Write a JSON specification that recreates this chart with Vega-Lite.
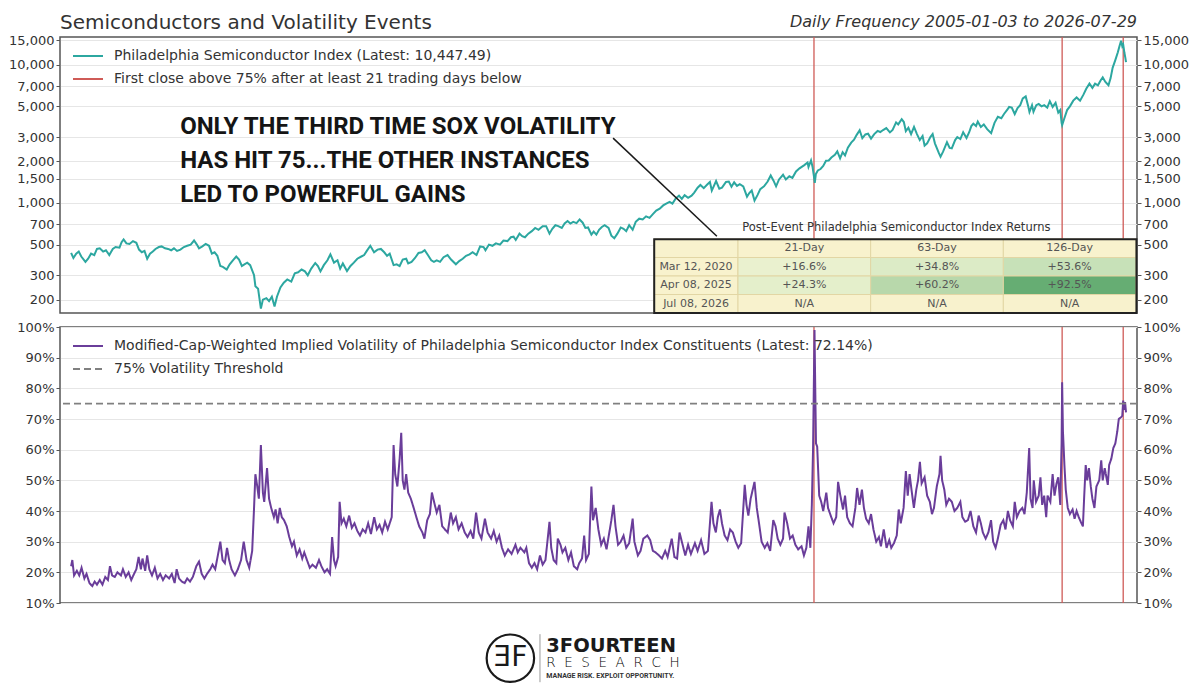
{
  "$schema": "https://vega.github.io/schema/vega-lite/v6.json",
  "background": "white",
  "padding": {"left": 7, "top": 12, "right": 8, "bottom": 4},
  "bounds": "flush",
  "spacing": 14,
  "resolve": {"scale": {"x": "independent", "y": "independent", "color": "independent", "strokeDash": "independent"}, "axis": {"x": "independent", "y": "independent"}, "legend": {"color": "independent", "strokeDash": "independent"}},
  "config": {
    "font": "DejaVu Sans",
    "view": {"stroke": "#555555", "strokeWidth": 1.5},
    "axis": {"labelFont": "DejaVu Sans", "labelFontSize": 13, "labelColor": "#333333", "tickColor": "#555555", "tickWidth": 1, "domain": false, "title": null},
    "axisY": {"gridColor": "#e6e6e6", "gridWidth": 1, "tickSize": 4, "labelPadding": 2},
    "legend": {"orient": "top-left", "offset": 3, "title": null, "symbolType": "stroke", "symbolStrokeWidth": 2, "symbolSize": 900, "symbolOffset": 9, "labelFont": "DejaVu Sans", "labelFontSize": 14, "labelColor": "#333333", "labelLimit": 0, "padding": 0, "rowPadding": -3, "labelOffset": 10}
  },
  "datasets": {
    "events": [{"d": "2020-03-12"}, {"d": "2025-04-08"}, {"d": "2026-07-08"}],
    "cells": [
      {"r": "Header", "c": "Date", "t": ""},
      {"r": "Header", "c": "21-Day", "t": "21-Day"},
      {"r": "Header", "c": "63-Day", "t": "63-Day"},
      {"r": "Header", "c": "126-Day", "t": "126-Day"},
      {"r": "Mar 12, 2020", "c": "Date", "t": "Mar 12, 2020"},
      {"r": "Mar 12, 2020", "c": "21-Day", "t": "+16.6%", "ret": 16.6},
      {"r": "Mar 12, 2020", "c": "63-Day", "t": "+34.8%", "ret": 34.8},
      {"r": "Mar 12, 2020", "c": "126-Day", "t": "+53.6%", "ret": 53.6},
      {"r": "Apr 08, 2025", "c": "Date", "t": "Apr 08, 2025"},
      {"r": "Apr 08, 2025", "c": "21-Day", "t": "+24.3%", "ret": 24.3},
      {"r": "Apr 08, 2025", "c": "63-Day", "t": "+60.2%", "ret": 60.2},
      {"r": "Apr 08, 2025", "c": "126-Day", "t": "+92.5%", "ret": 92.5},
      {"r": "Jul 08, 2026", "c": "Date", "t": "Jul 08, 2026"},
      {"r": "Jul 08, 2026", "c": "21-Day", "t": "N/A"},
      {"r": "Jul 08, 2026", "c": "63-Day", "t": "N/A"},
      {"r": "Jul 08, 2026", "c": "126-Day", "t": "N/A"}
    ],
    "sox": [
      {"d":"2005-01-03","v":435},{"d":"2005-01-20","v":400},{"d":"2005-02-10","v":430},{"d":"2005-03-01","v":445},{"d":"2005-03-20","v":410},{"d":"2005-04-20","v":375},{"d":"2005-05-10","v":395},{"d":"2005-06-01","v":430},{"d":"2005-06-25","v":420},{"d":"2005-07-15","v":465},{"d":"2005-08-05","v":470},{"d":"2005-08-30","v":445},{"d":"2005-09-20","v":455},{"d":"2005-10-15","v":420},{"d":"2005-11-10","v":465},{"d":"2005-12-01","v":480},{"d":"2005-12-30","v":475},
      {"d":"2006-01-15","v":520},{"d":"2006-01-30","v":545},{"d":"2006-02-20","v":510},{"d":"2006-03-15","v":505},{"d":"2006-04-10","v":530},{"d":"2006-05-05","v":515},{"d":"2006-05-25","v":460},{"d":"2006-06-15","v":440},{"d":"2006-07-05","v":450},{"d":"2006-07-25","v":395},{"d":"2006-08-15","v":430},{"d":"2006-09-05","v":445},{"d":"2006-09-25","v":465},{"d":"2006-10-20","v":480},{"d":"2006-11-10","v":485},{"d":"2006-12-05","v":470},{"d":"2006-12-28","v":465},
      {"d":"2007-01-20","v":455},{"d":"2007-02-10","v":470},{"d":"2007-03-05","v":450},{"d":"2007-03-30","v":460},{"d":"2007-04-25","v":480},{"d":"2007-05-20","v":490},{"d":"2007-06-15","v":500},{"d":"2007-07-10","v":535},{"d":"2007-07-31","v":500},{"d":"2007-08-16","v":470},{"d":"2007-09-10","v":485},{"d":"2007-10-05","v":505},{"d":"2007-10-30","v":490},{"d":"2007-11-20","v":430},{"d":"2007-12-10","v":440},{"d":"2007-12-31","v":415},
      {"d":"2008-01-22","v":350},{"d":"2008-02-10","v":345},{"d":"2008-03-10","v":330},{"d":"2008-04-01","v":360},{"d":"2008-04-25","v":385},{"d":"2008-05-20","v":410},{"d":"2008-06-10","v":390},{"d":"2008-07-01","v":350},{"d":"2008-07-20","v":360},{"d":"2008-08-10","v":370},{"d":"2008-09-01","v":355},{"d":"2008-09-30","v":300},{"d":"2008-10-10","v":250},{"d":"2008-10-30","v":240},{"d":"2008-11-20","v":172},{"d":"2008-12-05","v":200},{"d":"2008-12-31","v":205},
      {"d":"2009-01-20","v":195},{"d":"2009-02-10","v":210},{"d":"2009-03-02","v":178},{"d":"2009-03-20","v":210},{"d":"2009-04-15","v":245},{"d":"2009-05-10","v":265},{"d":"2009-06-05","v":280},{"d":"2009-07-05","v":270},{"d":"2009-07-31","v":310},{"d":"2009-08-25","v":315},{"d":"2009-09-20","v":330},{"d":"2009-10-15","v":320},{"d":"2009-11-05","v":300},{"d":"2009-12-01","v":335},{"d":"2009-12-31","v":368},
      {"d":"2010-01-20","v":350},{"d":"2010-02-08","v":320},{"d":"2010-03-05","v":355},{"d":"2010-04-01","v":385},{"d":"2010-04-23","v":425},{"d":"2010-05-20","v":370},{"d":"2010-06-15","v":385},{"d":"2010-07-05","v":335},{"d":"2010-07-25","v":365},{"d":"2010-08-25","v":322},{"d":"2010-09-20","v":350},{"d":"2010-10-15","v":370},{"d":"2010-11-10","v":395},{"d":"2010-12-10","v":410},{"d":"2010-12-31","v":420},
      {"d":"2011-01-20","v":450},{"d":"2011-02-15","v":490},{"d":"2011-03-15","v":440},{"d":"2011-04-10","v":460},{"d":"2011-05-05","v":465},{"d":"2011-05-30","v":440},{"d":"2011-06-20","v":415},{"d":"2011-07-10","v":430},{"d":"2011-08-08","v":355},{"d":"2011-08-31","v":360},{"d":"2011-09-22","v":350},{"d":"2011-10-15","v":390},{"d":"2011-11-10","v":395},{"d":"2011-11-25","v":365},{"d":"2011-12-20","v":375},
      {"d":"2012-01-15","v":400},{"d":"2012-02-10","v":435},{"d":"2012-03-05","v":440},{"d":"2012-03-27","v":455},{"d":"2012-04-20","v":420},{"d":"2012-05-15","v":385},{"d":"2012-06-04","v":375},{"d":"2012-06-25","v":385},{"d":"2012-07-20","v":375},{"d":"2012-08-15","v":405},{"d":"2012-09-14","v":420},{"d":"2012-10-10","v":390},{"d":"2012-11-15","v":360},{"d":"2012-12-10","v":380},
      {"d":"2013-01-05","v":395},{"d":"2013-01-30","v":415},{"d":"2013-02-25","v":425},{"d":"2013-03-20","v":440},{"d":"2013-04-18","v":420},{"d":"2013-05-15","v":485},{"d":"2013-06-10","v":480},{"d":"2013-06-24","v":455},{"d":"2013-07-20","v":500},{"d":"2013-08-15","v":490},{"d":"2013-09-10","v":510},{"d":"2013-10-10","v":500},{"d":"2013-11-05","v":535},{"d":"2013-12-05","v":530},{"d":"2013-12-31","v":565},
      {"d":"2014-01-20","v":570},{"d":"2014-02-05","v":540},{"d":"2014-03-05","v":600},{"d":"2014-03-25","v":575},{"d":"2014-04-15","v":565},{"d":"2014-05-10","v":600},{"d":"2014-06-05","v":625},{"d":"2014-06-30","v":660},{"d":"2014-07-25","v":640},{"d":"2014-08-25","v":680},{"d":"2014-09-20","v":680},{"d":"2014-10-15","v":600},{"d":"2014-11-05","v":650},{"d":"2014-11-28","v":690},{"d":"2014-12-20","v":680},
      {"d":"2015-01-15","v":660},{"d":"2015-02-05","v":710},{"d":"2015-02-27","v":740},{"d":"2015-03-20","v":710},{"d":"2015-04-10","v":730},{"d":"2015-05-05","v":715},{"d":"2015-05-28","v":760},{"d":"2015-06-20","v":720},{"d":"2015-07-10","v":660},{"d":"2015-07-30","v":665},{"d":"2015-08-24","v":590},{"d":"2015-09-10","v":620},{"d":"2015-09-30","v":590},{"d":"2015-10-20","v":640},{"d":"2015-11-10","v":670},{"d":"2015-12-01","v":690},{"d":"2015-12-30","v":660},
      {"d":"2016-01-20","v":580},{"d":"2016-02-11","v":555},{"d":"2016-03-05","v":600},{"d":"2016-03-30","v":665},{"d":"2016-04-20","v":650},{"d":"2016-05-10","v":625},{"d":"2016-06-01","v":690},{"d":"2016-06-27","v":640},{"d":"2016-07-20","v":730},{"d":"2016-08-15","v":770},{"d":"2016-09-10","v":760},{"d":"2016-10-05","v":800},{"d":"2016-10-31","v":780},{"d":"2016-11-25","v":830},{"d":"2016-12-20","v":880},
      {"d":"2017-01-15","v":910},{"d":"2017-02-10","v":960},{"d":"2017-03-05","v":990},{"d":"2017-03-30","v":1020},{"d":"2017-04-20","v":990},{"d":"2017-05-15","v":1080},{"d":"2017-06-08","v":1130},{"d":"2017-06-29","v":1070},{"d":"2017-07-20","v":1140},{"d":"2017-08-15","v":1090},{"d":"2017-09-10","v":1130},{"d":"2017-09-30","v":1190},{"d":"2017-10-25","v":1290},{"d":"2017-11-15","v":1350},{"d":"2017-12-10","v":1280},
      {"d":"2018-01-05","v":1360},{"d":"2018-01-25","v":1420},{"d":"2018-02-08","v":1230},{"d":"2018-03-12","v":1440},{"d":"2018-04-05","v":1270},{"d":"2018-04-25","v":1290},{"d":"2018-05-25","v":1420},{"d":"2018-06-15","v":1430},{"d":"2018-07-05","v":1310},{"d":"2018-07-25","v":1410},{"d":"2018-08-15","v":1330},{"d":"2018-09-05","v":1370},{"d":"2018-10-01","v":1320},{"d":"2018-10-29","v":1110},{"d":"2018-11-15","v":1180},{"d":"2018-12-03","v":1230},{"d":"2018-12-24","v":1040},
      {"d":"2019-01-15","v":1140},{"d":"2019-02-05","v":1260},{"d":"2019-03-05","v":1320},{"d":"2019-04-01","v":1430},{"d":"2019-04-24","v":1580},{"d":"2019-05-15","v":1450},{"d":"2019-06-03","v":1320},{"d":"2019-06-25","v":1480},{"d":"2019-07-25","v":1600},{"d":"2019-08-15","v":1480},{"d":"2019-09-10","v":1560},{"d":"2019-10-03","v":1520},{"d":"2019-10-30","v":1690},{"d":"2019-11-25","v":1780},{"d":"2019-12-31","v":1880},
      {"d":"2020-01-24","v":1960},{"d":"2020-01-31","v":1820},{"d":"2020-02-19","v":2030},{"d":"2020-03-01","v":1830},{"d":"2020-03-12","v":1550},{"d":"2020-03-18","v":1400},{"d":"2020-03-26","v":1620},{"d":"2020-04-10","v":1720},{"d":"2020-04-30","v":1760},{"d":"2020-05-20","v":1850},{"d":"2020-06-10","v":2020},{"d":"2020-06-30","v":2030},{"d":"2020-07-20","v":2130},{"d":"2020-08-15","v":2230},{"d":"2020-09-02","v":2360},{"d":"2020-09-23","v":2100},{"d":"2020-10-12","v":2330},{"d":"2020-10-30","v":2210},{"d":"2020-11-20","v":2510},{"d":"2020-12-15","v":2730},
      {"d":"2021-01-05","v":2870},{"d":"2021-01-25","v":3110},{"d":"2021-02-16","v":3360},{"d":"2021-03-08","v":2940},{"d":"2021-03-31","v":3130},{"d":"2021-04-20","v":3170},{"d":"2021-05-12","v":2920},{"d":"2021-06-05","v":3150},{"d":"2021-06-30","v":3320},{"d":"2021-07-20","v":3260},{"d":"2021-08-10","v":3370},{"d":"2021-09-03","v":3480},{"d":"2021-09-30","v":3240},{"d":"2021-10-20","v":3380},{"d":"2021-11-15","v":3830},{"d":"2021-12-01","v":3700},{"d":"2021-12-27","v":4040},
      {"d":"2022-01-12","v":3850},{"d":"2022-01-27","v":3310},{"d":"2022-02-15","v":3500},{"d":"2022-03-07","v":3150},{"d":"2022-03-29","v":3550},{"d":"2022-04-20","v":3150},{"d":"2022-05-11","v":2850},{"d":"2022-06-01","v":3050},{"d":"2022-06-16","v":2600},{"d":"2022-07-05","v":2700},{"d":"2022-07-29","v":3000},{"d":"2022-08-15","v":3150},{"d":"2022-09-01","v":2700},{"d":"2022-09-30","v":2300},{"d":"2022-10-13","v":2160},{"d":"2022-11-01","v":2350},{"d":"2022-11-30","v":2750},{"d":"2022-12-20","v":2500},
      {"d":"2023-01-05","v":2480},{"d":"2023-01-30","v":2850},{"d":"2023-02-15","v":3000},{"d":"2023-03-10","v":2900},{"d":"2023-03-31","v":3250},{"d":"2023-04-25","v":2950},{"d":"2023-05-15","v":3250},{"d":"2023-05-31","v":3600},{"d":"2023-06-15","v":3750},{"d":"2023-07-05","v":3600},{"d":"2023-07-18","v":3880},{"d":"2023-08-10","v":3550},{"d":"2023-09-01","v":3700},{"d":"2023-09-26","v":3420},{"d":"2023-10-26","v":3200},{"d":"2023-11-20","v":3800},{"d":"2023-12-15","v":4200},
      {"d":"2024-01-10","v":4100},{"d":"2024-01-30","v":4400},{"d":"2024-02-25","v":4750},{"d":"2024-03-08","v":4950},{"d":"2024-03-28","v":4900},{"d":"2024-04-19","v":4400},{"d":"2024-05-10","v":4850},{"d":"2024-05-30","v":5100},{"d":"2024-06-18","v":5700},{"d":"2024-07-10","v":5900},{"d":"2024-07-30","v":4950},{"d":"2024-08-07","v":4550},{"d":"2024-08-26","v":5100},{"d":"2024-09-06","v":4570},{"d":"2024-09-27","v":5100},{"d":"2024-10-15","v":5200},{"d":"2024-11-05","v":5000},{"d":"2024-11-25","v":5100},{"d":"2024-12-18","v":4900},
      {"d":"2025-01-06","v":5450},{"d":"2025-01-27","v":4950},{"d":"2025-02-18","v":5300},{"d":"2025-03-10","v":4500},{"d":"2025-03-25","v":4700},{"d":"2025-04-04","v":3800},{"d":"2025-04-08","v":3650},{"d":"2025-04-21","v":4000},{"d":"2025-05-15","v":4700},{"d":"2025-06-05","v":5000},{"d":"2025-06-30","v":5500},{"d":"2025-07-25","v":5800},{"d":"2025-08-20","v":5500},{"d":"2025-09-15","v":6100},{"d":"2025-10-05","v":6700},{"d":"2025-10-29","v":7300},{"d":"2025-11-20","v":6800},{"d":"2025-12-10","v":7300},{"d":"2025-12-31","v":7100},
      {"d":"2026-01-20","v":7700},{"d":"2026-02-05","v":8100},{"d":"2026-02-25","v":7500},{"d":"2026-03-20","v":7100},{"d":"2026-04-05","v":8000},{"d":"2026-04-20","v":9500},{"d":"2026-05-10","v":10800},{"d":"2026-05-29","v":12300},{"d":"2026-06-10","v":13600},{"d":"2026-06-22","v":14900},{"d":"2026-07-01","v":13600},{"d":"2026-07-08","v":14000},{"d":"2026-07-17","v":12200},{"d":"2026-07-24","v":11200},{"d":"2026-07-29","v":10447.49}
    ],
    "vol": [
      {"d":"2005-01-03","v":22},{"d":"2005-01-12","v":24},{"d":"2005-01-25","v":19},{"d":"2005-02-15","v":20.5},{"d":"2005-03-05","v":19},{"d":"2005-03-22","v":21.5},{"d":"2005-04-12","v":18},{"d":"2005-04-28","v":19.5},{"d":"2005-05-20","v":16.5},{"d":"2005-06-10","v":15.5},{"d":"2005-06-28","v":17},{"d":"2005-07-15","v":16},{"d":"2005-08-05","v":17.5},{"d":"2005-08-25","v":16},{"d":"2005-09-15","v":18.5},{"d":"2005-10-05","v":17.5},{"d":"2005-10-20","v":22},{"d":"2005-11-05","v":19},{"d":"2005-11-25","v":18.5},{"d":"2005-12-15","v":20},
      {"d":"2006-01-10","v":19},{"d":"2006-01-25","v":21},{"d":"2006-02-15","v":18.5},{"d":"2006-03-08","v":20},{"d":"2006-03-28","v":17.5},{"d":"2006-04-18","v":19.5},{"d":"2006-05-05","v":21},{"d":"2006-05-22","v":25},{"d":"2006-06-08","v":21},{"d":"2006-06-20","v":24.5},{"d":"2006-07-10","v":20.5},{"d":"2006-07-25","v":25.5},{"d":"2006-08-10","v":21},{"d":"2006-08-30","v":19},{"d":"2006-09-20","v":21.5},{"d":"2006-10-10","v":18},{"d":"2006-10-30","v":19.5},{"d":"2006-11-20","v":17.5},{"d":"2006-12-10","v":19},
      {"d":"2007-01-05","v":18},{"d":"2007-01-25","v":19.5},{"d":"2007-02-15","v":16.5},{"d":"2007-03-02","v":21},{"d":"2007-03-20","v":18},{"d":"2007-04-10","v":17},{"d":"2007-05-01","v":16.5},{"d":"2007-05-20","v":18},{"d":"2007-06-10","v":17},{"d":"2007-07-01","v":18.5},{"d":"2007-07-27","v":22},{"d":"2007-08-16","v":23.5},{"d":"2007-09-05","v":19.5},{"d":"2007-09-25","v":18},{"d":"2007-10-15","v":19.5},{"d":"2007-11-08","v":21},{"d":"2007-11-25","v":22.5},{"d":"2007-12-15","v":21},
      {"d":"2008-01-10","v":27},{"d":"2008-01-22","v":30},{"d":"2008-02-08","v":24},{"d":"2008-02-25","v":23},{"d":"2008-03-12","v":28},{"d":"2008-03-28","v":24},{"d":"2008-04-15","v":21},{"d":"2008-05-10","v":19},{"d":"2008-06-01","v":21},{"d":"2008-06-25","v":24},{"d":"2008-07-15","v":30},{"d":"2008-08-05","v":24},{"d":"2008-08-25","v":21.5},{"d":"2008-09-16","v":27},{"d":"2008-09-30","v":41},{"d":"2008-10-10","v":52},{"d":"2008-10-24","v":48},{"d":"2008-11-05","v":44},{"d":"2008-11-20","v":61.5},{"d":"2008-12-05","v":46},{"d":"2008-12-15","v":43},
      {"d":"2009-01-05","v":54},{"d":"2009-01-20","v":44},{"d":"2009-02-05","v":41},{"d":"2009-02-25","v":38},{"d":"2009-03-10","v":40.5},{"d":"2009-03-25","v":36},{"d":"2009-04-10","v":41},{"d":"2009-04-25","v":38},{"d":"2009-05-12","v":37},{"d":"2009-06-01","v":35},{"d":"2009-06-20","v":31.5},{"d":"2009-07-10","v":28.5},{"d":"2009-07-25","v":30},{"d":"2009-08-15","v":25.5},{"d":"2009-09-05","v":27.5},{"d":"2009-09-25","v":24.5},{"d":"2009-10-10","v":26.5},{"d":"2009-10-30","v":24},{"d":"2009-11-20","v":21.5},{"d":"2009-12-10","v":22.5},
      {"d":"2010-01-05","v":21.5},{"d":"2010-01-28","v":24},{"d":"2010-02-15","v":22},{"d":"2010-03-10","v":20},{"d":"2010-03-30","v":21},{"d":"2010-04-20","v":19.5},{"d":"2010-05-06","v":31.5},{"d":"2010-05-20","v":24},{"d":"2010-06-01","v":22},{"d":"2010-06-20","v":25},{"d":"2010-07-01","v":43},{"d":"2010-07-15","v":36},{"d":"2010-08-01","v":37.5},{"d":"2010-08-20","v":35},{"d":"2010-09-10","v":38.5},{"d":"2010-09-30","v":34.5},{"d":"2010-10-20","v":36},{"d":"2010-11-10","v":33.5},{"d":"2010-11-30","v":32},{"d":"2010-12-20","v":34},
      {"d":"2011-01-10","v":33},{"d":"2011-01-30","v":36},{"d":"2011-02-20","v":32.5},{"d":"2011-03-16","v":38},{"d":"2011-04-05","v":34},{"d":"2011-04-25","v":35.5},{"d":"2011-05-15","v":33},{"d":"2011-06-05","v":36.5},{"d":"2011-06-25","v":34},{"d":"2011-07-10","v":36},{"d":"2011-07-25","v":38},{"d":"2011-08-08","v":61.5},{"d":"2011-08-20","v":52},{"d":"2011-09-05","v":48},{"d":"2011-09-22","v":57},{"d":"2011-10-04","v":65.5},{"d":"2011-10-15","v":50},{"d":"2011-10-28","v":47},{"d":"2011-11-10","v":52},{"d":"2011-11-25","v":46},{"d":"2011-12-15","v":44},
      {"d":"2012-01-05","v":41},{"d":"2012-01-25","v":38},{"d":"2012-02-15","v":35},{"d":"2012-03-10","v":33},{"d":"2012-03-25","v":31},{"d":"2012-04-15","v":37},{"d":"2012-05-05","v":39},{"d":"2012-05-20","v":46},{"d":"2012-06-05","v":43},{"d":"2012-06-25","v":39.5},{"d":"2012-07-15","v":42},{"d":"2012-08-05","v":35},{"d":"2012-08-25","v":34},{"d":"2012-09-15","v":33},{"d":"2012-10-08","v":39.5},{"d":"2012-10-25","v":36},{"d":"2012-11-15","v":38},{"d":"2012-12-05","v":34},{"d":"2012-12-28","v":36},
      {"d":"2013-01-20","v":33},{"d":"2013-02-10","v":31.5},{"d":"2013-03-05","v":33.5},{"d":"2013-03-25","v":31},{"d":"2013-04-15","v":39.5},{"d":"2013-05-05","v":33},{"d":"2013-05-25","v":31},{"d":"2013-06-20","v":37.5},{"d":"2013-07-10","v":33},{"d":"2013-08-05","v":31},{"d":"2013-08-25","v":33.5},{"d":"2013-09-15","v":30},{"d":"2013-10-05","v":32},{"d":"2013-10-25","v":28},{"d":"2013-11-15","v":25.5},{"d":"2013-12-10","v":27.5},
      {"d":"2014-01-05","v":26},{"d":"2014-02-03","v":29},{"d":"2014-02-20","v":26.5},{"d":"2014-03-12","v":28},{"d":"2014-04-10","v":26.5},{"d":"2014-04-25","v":28},{"d":"2014-05-15","v":23},{"d":"2014-06-05","v":21.5},{"d":"2014-06-25","v":23},{"d":"2014-07-15","v":21},{"d":"2014-08-05","v":25.5},{"d":"2014-08-25","v":22.5},{"d":"2014-09-15","v":24},{"d":"2014-10-15","v":36.5},{"d":"2014-10-28","v":28},{"d":"2014-11-15","v":24},{"d":"2014-12-05","v":23},{"d":"2014-12-16","v":31},
      {"d":"2015-01-05","v":29},{"d":"2015-01-20","v":26.5},{"d":"2015-02-10","v":28},{"d":"2015-03-05","v":24},{"d":"2015-03-25","v":26.5},{"d":"2015-04-15","v":22},{"d":"2015-05-10","v":21},{"d":"2015-05-25","v":23},{"d":"2015-06-15","v":24.5},{"d":"2015-07-01","v":32},{"d":"2015-07-15","v":24},{"d":"2015-08-05","v":26},{"d":"2015-08-24","v":48},{"d":"2015-09-05","v":37},{"d":"2015-09-25","v":41},{"d":"2015-10-15","v":34},{"d":"2015-11-05","v":29},{"d":"2015-11-25","v":31},{"d":"2015-12-15","v":27.5},
      {"d":"2016-01-20","v":37},{"d":"2016-02-05","v":42},{"d":"2016-02-20","v":35},{"d":"2016-03-10","v":29},{"d":"2016-03-30","v":30},{"d":"2016-04-20","v":32},{"d":"2016-05-10","v":28},{"d":"2016-06-01","v":29.5},{"d":"2016-06-27","v":37.5},{"d":"2016-07-10","v":30},{"d":"2016-08-05","v":25.5},{"d":"2016-08-25","v":27},{"d":"2016-09-15","v":31},{"d":"2016-10-15","v":32},{"d":"2016-11-05","v":30.5},{"d":"2016-11-25","v":27},{"d":"2016-12-15","v":26.5},
      {"d":"2017-01-10","v":25.5},{"d":"2017-02-01","v":24.5},{"d":"2017-02-25","v":27},{"d":"2017-03-15","v":25},{"d":"2017-04-15","v":31},{"d":"2017-05-05","v":25},{"d":"2017-05-25","v":24.5},{"d":"2017-06-12","v":33},{"d":"2017-07-05","v":29},{"d":"2017-07-25","v":25.5},{"d":"2017-08-15","v":29},{"d":"2017-09-05","v":26},{"d":"2017-10-05","v":29.5},{"d":"2017-10-25","v":27},{"d":"2017-11-20","v":30.5},{"d":"2017-12-15","v":26},
      {"d":"2018-01-10","v":27},{"d":"2018-02-06","v":43},{"d":"2018-02-20","v":36},{"d":"2018-03-10","v":33},{"d":"2018-03-25","v":38},{"d":"2018-04-10","v":40.5},{"d":"2018-04-25","v":36},{"d":"2018-05-15","v":32},{"d":"2018-06-05","v":30.5},{"d":"2018-06-25","v":34},{"d":"2018-07-15","v":33},{"d":"2018-08-05","v":30},{"d":"2018-08-25","v":28},{"d":"2018-09-15","v":29.5},{"d":"2018-10-12","v":48.5},{"d":"2018-10-25","v":42},{"d":"2018-11-08","v":38.5},{"d":"2018-11-25","v":44},{"d":"2018-12-24","v":49.5},
      {"d":"2019-01-10","v":41},{"d":"2019-01-25","v":36.5},{"d":"2019-02-15","v":30},{"d":"2019-03-10","v":28},{"d":"2019-03-30","v":29.5},{"d":"2019-04-20","v":27},{"d":"2019-05-13","v":37},{"d":"2019-05-30","v":35},{"d":"2019-06-15","v":31},{"d":"2019-07-05","v":29},{"d":"2019-07-25","v":31},{"d":"2019-08-05","v":39.5},{"d":"2019-08-25","v":36},{"d":"2019-09-15","v":31},{"d":"2019-10-05","v":32},{"d":"2019-10-25","v":29},{"d":"2019-11-15","v":27.5},{"d":"2019-12-10","v":28.5},{"d":"2019-12-28","v":25.5},
      {"d":"2020-01-15","v":28},{"d":"2020-01-31","v":35},{"d":"2020-02-14","v":28},{"d":"2020-02-25","v":42},{"d":"2020-03-05","v":60},{"d":"2020-03-16","v":99},{"d":"2020-03-20","v":85},{"d":"2020-03-27","v":62},{"d":"2020-04-05","v":61},{"d":"2020-04-20","v":45},{"d":"2020-05-05","v":43},{"d":"2020-05-20","v":40},{"d":"2020-06-12","v":46},{"d":"2020-06-25","v":41},{"d":"2020-07-15","v":38.5},{"d":"2020-08-05","v":36},{"d":"2020-08-25","v":38},{"d":"2020-09-08","v":49.5},{"d":"2020-09-25","v":45},{"d":"2020-10-15","v":40.5},{"d":"2020-10-30","v":45},{"d":"2020-11-15","v":38},{"d":"2020-12-05","v":36},{"d":"2020-12-25","v":35},
      {"d":"2021-01-15","v":41},{"d":"2021-01-28","v":47.5},{"d":"2021-02-15","v":42},{"d":"2021-03-05","v":47},{"d":"2021-03-20","v":41},{"d":"2021-04-05","v":37.5},{"d":"2021-04-25","v":36},{"d":"2021-05-12","v":39},{"d":"2021-05-30","v":34},{"d":"2021-06-20","v":30},{"d":"2021-07-10","v":31.5},{"d":"2021-07-25","v":28.5},{"d":"2021-08-15","v":34},{"d":"2021-09-05","v":28},{"d":"2021-09-25","v":30.5},{"d":"2021-10-10","v":28},{"d":"2021-10-30","v":29.5},{"d":"2021-11-20","v":32},{"d":"2021-12-05","v":40.5},{"d":"2021-12-20","v":36},
      {"d":"2022-01-10","v":41},{"d":"2022-01-27","v":53},{"d":"2022-02-10","v":45},{"d":"2022-02-24","v":52},{"d":"2022-03-10","v":47},{"d":"2022-03-28","v":41},{"d":"2022-04-15","v":47},{"d":"2022-04-28","v":50},{"d":"2022-05-12","v":56},{"d":"2022-05-25","v":49},{"d":"2022-06-16","v":51},{"d":"2022-07-05","v":45},{"d":"2022-07-25","v":43},{"d":"2022-08-10","v":39},{"d":"2022-08-25","v":41},{"d":"2022-09-15","v":48},{"d":"2022-10-05","v":52},{"d":"2022-10-13","v":58},{"d":"2022-10-25","v":50},{"d":"2022-11-10","v":47},{"d":"2022-11-25","v":42},{"d":"2022-12-15","v":44},
      {"d":"2023-01-05","v":43},{"d":"2023-01-25","v":40},{"d":"2023-02-15","v":41},{"d":"2023-03-10","v":43},{"d":"2023-03-25","v":38},{"d":"2023-04-15","v":36.5},{"d":"2023-05-05","v":37},{"d":"2023-05-25","v":40},{"d":"2023-06-15","v":35},{"d":"2023-07-05","v":33},{"d":"2023-07-25","v":38.5},{"d":"2023-08-10","v":36},{"d":"2023-08-25","v":33},{"d":"2023-09-15","v":31},{"d":"2023-10-05","v":33},{"d":"2023-10-25","v":37},{"d":"2023-11-10","v":30},{"d":"2023-11-28","v":28},{"d":"2023-12-15","v":31},
      {"d":"2024-01-05","v":35.5},{"d":"2024-01-25","v":37},{"d":"2024-02-10","v":34},{"d":"2024-02-28","v":40},{"d":"2024-03-15","v":37},{"d":"2024-04-05","v":35},{"d":"2024-04-19","v":43},{"d":"2024-05-05","v":38},{"d":"2024-05-25","v":40},{"d":"2024-06-15","v":41},{"d":"2024-07-01","v":39},{"d":"2024-07-18","v":46},{"d":"2024-08-05","v":60.5},{"d":"2024-08-15","v":44},{"d":"2024-08-30","v":41},{"d":"2024-09-08","v":50},{"d":"2024-09-25","v":43},{"d":"2024-10-15","v":45},{"d":"2024-10-28","v":51},{"d":"2024-11-10","v":42},{"d":"2024-11-25","v":45},{"d":"2024-12-10","v":38},{"d":"2024-12-20","v":45},
      {"d":"2025-01-10","v":43},{"d":"2025-01-27","v":52},{"d":"2025-02-10","v":45},{"d":"2025-02-25","v":49},{"d":"2025-03-10","v":51},{"d":"2025-03-25","v":42},{"d":"2025-04-04","v":62},{"d":"2025-04-08","v":82},{"d":"2025-04-14","v":66},{"d":"2025-04-25","v":55},{"d":"2025-05-05","v":47},{"d":"2025-05-20","v":41},{"d":"2025-06-05","v":39},{"d":"2025-06-25","v":40.5},{"d":"2025-07-10","v":37.5},{"d":"2025-07-25","v":40},{"d":"2025-08-10","v":38},{"d":"2025-08-25","v":36.5},{"d":"2025-09-10","v":35},{"d":"2025-09-20","v":45},{"d":"2025-10-01","v":55},{"d":"2025-10-12","v":50},{"d":"2025-10-25","v":54},{"d":"2025-11-08","v":48},{"d":"2025-11-20","v":44},{"d":"2025-12-05","v":41},{"d":"2025-12-20","v":48},
      {"d":"2026-01-10","v":50},{"d":"2026-01-25","v":56.5},{"d":"2026-02-05","v":50},{"d":"2026-02-20","v":54},{"d":"2026-03-15","v":48.5},{"d":"2026-03-25","v":55},{"d":"2026-04-10","v":57},{"d":"2026-04-25","v":60.5},{"d":"2026-05-10","v":62},{"d":"2026-05-25","v":66},{"d":"2026-06-05","v":70},{"d":"2026-06-20","v":70.5},{"d":"2026-07-01","v":71},{"d":"2026-07-08","v":76},{"d":"2026-07-15","v":73},{"d":"2026-07-22","v":75.5},{"d":"2026-07-29","v":72.14}
    ]
  },
  "vconcat": [
    {
      "width": 1077,
      "height": 276,
      "layer": [
        {
          "layer": [
            {
              "data": {"name": "events"},
              "mark": {"type": "rule", "strokeWidth": 1.3},
              "encoding": {
                "x": {"field": "d", "type": "temporal", "scale": {"domain": [{"year": 2004, "month": 10, "date": 12}, {"year": 2026, "month": 10, "date": 19}], "nice": false}, "axis": null},
                "color": {"datum": "First close above 75% after at least 21 trading days below", "type": "nominal", "scale": {"domain": ["Philadelphia Semiconductor Index (Latest: 10,447.49)", "First close above 75% after at least 21 trading days below"], "range": ["#2ca7a0", "#cf5b57"]}}
              }
            },
            {
              "data": {"name": "sox"},
              "mark": {"type": "line", "strokeWidth": 2},
              "encoding": {
                "x": {"field": "d", "type": "temporal", "scale": {"domain": [{"year": 2004, "month": 10, "date": 12}, {"year": 2026, "month": 10, "date": 19}], "nice": false}, "axis": null},
                "y": {"field": "v", "type": "quantitative", "scale": {"type": "log", "domain": [160, 15870], "nice": false}, "axis": {"orient": "left", "title": null, "grid": true, "values": [200, 300, 500, 700, 1000, 1500, 2000, 3000, 5000, 7000, 10000, 15000], "format": ",d"}},
                "color": {"datum": "Philadelphia Semiconductor Index (Latest: 10,447.49)", "type": "nominal", "scale": {"domain": ["Philadelphia Semiconductor Index (Latest: 10,447.49)", "First close above 75% after at least 21 trading days below"], "range": ["#2ca7a0", "#cf5b57"]}}
              }
            },
            {
              "data": {"values": [{}]},
              "mark": {"type": "text", "font": "Roboto", "fontWeight": "bold", "fontSize": 24, "align": "left", "baseline": "middle", "lineHeight": 34, "color": "#151515"},
              "encoding": {
                "x": {"datum": {"year": 2007, "month": 3, "date": 28}, "type": "temporal", "scale": {"domain": [{"year": 2004, "month": 10, "date": 12}, {"year": 2026, "month": 10, "date": 19}], "nice": false}, "axis": null},
                "y": {"datum": 3540, "type": "quantitative", "scale": {"type": "log", "domain": [160, 15870], "nice": false}, "axis": {"orient": "right", "title": null, "grid": false, "values": [200, 300, 500, 700, 1000, 1500, 2000, 3000, 5000, 7000, 10000, 15000], "format": ",d"}},
                "text": {"value": ["ONLY THE THIRD TIME SOX VOLATILITY", "HAS HIT 75...THE OTHER INSTANCES", "LED TO POWERFUL GAINS"]}
              }
            },
            {
              "data": {"values": [{}]},
              "mark": {"type": "rule", "color": "#1a1a1a", "strokeWidth": 1.5},
              "encoding": {
                "x": {"datum": {"year": 2016, "month": 2, "date": 2}, "type": "temporal", "scale": {"domain": [{"year": 2004, "month": 10, "date": 12}, {"year": 2026, "month": 10, "date": 19}], "nice": false}, "axis": null},
                "x2": {"datum": {"year": 2018, "month": 3, "date": 18}},
                "y": {"datum": 2943, "type": "quantitative", "scale": {"type": "log", "domain": [160, 15870], "nice": false}, "axis": null},
                "y2": {"datum": 575}
              }
            },
            {
              "data": {"values": [{}]},
              "mark": {"type": "text", "font": "DejaVu Sans", "fontSize": 20, "align": "left", "baseline": "alphabetic", "color": "#333333"},
              "encoding": {
                "x": {"datum": {"year": 2004, "month": 10, "date": 12}, "type": "temporal", "scale": {"domain": [{"year": 2004, "month": 10, "date": 12}, {"year": 2026, "month": 10, "date": 19}], "nice": false}, "axis": null},
                "y": {"datum": 18140, "type": "quantitative", "scale": {"type": "log", "domain": [160, 15870], "nice": false}, "axis": null},
                "text": {"value": "Semiconductors and Volatility Events"}
              }
            },
            {
              "data": {"values": [{}]},
              "mark": {"type": "text", "font": "DejaVu Sans", "fontStyle": "italic", "fontSize": 16, "align": "right", "baseline": "alphabetic", "color": "#333333"},
              "encoding": {
                "x": {"datum": {"year": 2026, "month": 10, "date": 19}, "type": "temporal", "scale": {"domain": [{"year": 2004, "month": 10, "date": 12}, {"year": 2026, "month": 10, "date": 19}], "nice": false}, "axis": null},
                "y": {"datum": 18700, "type": "quantitative", "scale": {"type": "log", "domain": [160, 15870], "nice": false}, "axis": null},
                "text": {"value": "Daily Frequency 2005-01-03 to 2026-07-29"}
              }
            }
          ],
          "resolve": {"axis": {"y": "independent"}}
        },
        {
          "data": {"name": "cells"},
          "layer": [
            {
              "transform": [{"filter": "datum.c == 'Date'"}],
              "encoding": {
                "x": {"field": "c", "type": "nominal", "scale": {"type": "band", "domain": ["Date"], "range": [594, 678], "paddingInner": 0, "paddingOuter": 0}, "axis": null},
                "y": {"field": "r", "type": "nominal", "scale": {"type": "band", "domain": ["Header", "Mar 12, 2020", "Apr 08, 2025", "Jul 08, 2026"], "range": [202, 276], "paddingInner": 0, "paddingOuter": 0}, "axis": null}
              },
              "layer": [
                {"mark": {"type": "rect", "fill": "#f8f2cd", "stroke": "#e2d6a4", "strokeWidth": 1}},
                {"mark": {"type": "text", "font": "DejaVu Sans", "fontSize": 11, "color": "#555555"}, "encoding": {"text": {"field": "t"}}}
              ]
            },
            {
              "transform": [{"filter": "datum.c != 'Date'"}],
              "encoding": {
                "x": {"field": "c", "type": "nominal", "scale": {"type": "band", "domain": ["21-Day", "63-Day", "126-Day"], "range": [678, 1076], "paddingInner": 0, "paddingOuter": 0}, "axis": null},
                "y": {"field": "r", "type": "nominal", "scale": {"type": "band", "domain": ["Header", "Mar 12, 2020", "Apr 08, 2025", "Jul 08, 2026"], "range": [202, 276], "paddingInner": 0, "paddingOuter": 0}, "axis": null}
              },
              "layer": [
                {"mark": {"type": "rect", "fill": "#f8f2cd", "stroke": "#e2d6a4", "strokeWidth": 1}},
                {
                  "transform": [{"filter": "isValid(datum.ret)"}],
                  "mark": {"type": "rect", "stroke": "#e2d6a4", "strokeWidth": 1},
                  "encoding": {"fill": {"field": "ret", "type": "quantitative", "scale": {"domain": [0, 50, 100], "range": ["#f6f7d8", "#cfe6bf", "#4fa368"]}, "legend": null}}
                },
                {"mark": {"type": "text", "font": "DejaVu Sans", "fontSize": 11, "color": "#555555"}, "encoding": {"text": {"field": "t"}}}
              ]
            }
          ],
          "resolve": {"scale": {"x": "independent"}}
        },
        {
          "data": {"values": [{}]},
          "layer": [
            {
              "mark": {"type": "rect", "fill": "transparent", "stroke": "#222222", "strokeWidth": 2},
              "encoding": {
                "x": {"datum": {"year": 2016, "month": 12, "date": 5}, "type": "temporal", "scale": {"domain": [{"year": 2004, "month": 10, "date": 12}, {"year": 2026, "month": 10, "date": 19}], "nice": false}, "axis": null},
                "x2": {"datum": {"year": 2026, "month": 10, "date": 15}},
                "y": {"datum": 547, "type": "quantitative", "scale": {"type": "log", "domain": [160, 15870], "nice": false}, "axis": null},
                "y2": {"datum": 160}
              }
            },
            {
              "mark": {"type": "text", "font": "DejaVu Sans", "fontSize": 11.5, "align": "center", "baseline": "middle", "color": "#333333"},
              "encoding": {
                "x": {"datum": {"year": 2021, "month": 11, "date": 17}, "type": "temporal", "scale": {"domain": [{"year": 2004, "month": 10, "date": 12}, {"year": 2026, "month": 10, "date": 19}], "nice": false}, "axis": null},
                "y": {"datum": 656, "type": "quantitative", "scale": {"type": "log", "domain": [160, 15870], "nice": false}, "axis": null},
                "text": {"value": "Post-Event Philadelphia Semiconductor Index Returns"}
              }
            },
            {
              "mark": {"type": "point", "shape": "circle", "size": 2250, "filled": false, "stroke": "#1a1a1a", "strokeWidth": 2.2, "opacity": 1},
              "encoding": {
                "x": {"datum": {"year": 2013, "month": 12, "date": 27}, "type": "temporal", "scale": {"domain": [{"year": 2004, "month": 10, "date": 12}, {"year": 2026, "month": 10, "date": 19}], "nice": false}, "axis": null},
                "y": {"datum": 0.5094, "type": "quantitative", "scale": {"type": "log", "domain": [160, 15870], "nice": false}, "axis": null}
              }
            },
            {
              "mark": {"type": "text", "font": "DejaVu Sans", "fontSize": 28, "align": "center", "baseline": "middle", "color": "#1a1a1a", "text": "ƎF"},
              "encoding": {
                "x": {"datum": {"year": 2013, "month": 12, "date": 27}, "type": "temporal", "scale": {"domain": [{"year": 2004, "month": 10, "date": 12}, {"year": 2026, "month": 10, "date": 19}], "nice": false}, "axis": null},
                "y": {"datum": 0.5094, "type": "quantitative", "scale": {"type": "log", "domain": [160, 15870], "nice": false}, "axis": null}
              }
            },
            {
              "mark": {"type": "rule", "color": "#999999", "strokeWidth": 1},
              "encoding": {
                "x": {"datum": {"year": 2014, "month": 8, "date": 5}, "type": "temporal", "scale": {"domain": [{"year": 2004, "month": 10, "date": 12}, {"year": 2026, "month": 10, "date": 19}], "nice": false}, "axis": null},
                "y": {"datum": 0.76, "type": "quantitative", "scale": {"type": "log", "domain": [160, 15870], "nice": false}, "axis": null},
                "y2": {"datum": 0.3416}
              }
            },
            {
              "mark": {"type": "text", "font": "DejaVu Sans", "fontWeight": "bold", "fontSize": 19.5, "align": "left", "baseline": "middle", "color": "#1a1a1a", "text": "3FOURTEEN"},
              "encoding": {
                "x": {"datum": {"year": 2014, "month": 9, "date": 21}, "type": "temporal", "scale": {"domain": [{"year": 2004, "month": 10, "date": 12}, {"year": 2026, "month": 10, "date": 19}], "nice": false}, "axis": null},
                "y": {"datum": 0.6222, "type": "quantitative", "scale": {"type": "log", "domain": [160, 15870], "nice": false}, "axis": null}
              }
            },
            {
              "mark": {"type": "text", "font": "DejaVu Sans", "fontWeight": 200, "fontSize": 13.5, "align": "left", "baseline": "middle", "color": "#000000", "text": "R\u00a0\u00a0E\u00a0\u00a0S\u00a0\u00a0E\u00a0\u00a0A\u00a0\u00a0R\u00a0\u00a0C\u00a0\u00a0H"},
              "encoding": {
                "x": {"datum": {"year": 2014, "month": 9, "date": 21}, "type": "temporal", "scale": {"domain": [{"year": 2004, "month": 10, "date": 12}, {"year": 2026, "month": 10, "date": 19}], "nice": false}, "axis": null},
                "y": {"datum": 0.4726, "type": "quantitative", "scale": {"type": "log", "domain": [160, 15870], "nice": false}, "axis": null}
              }
            },
            {
              "mark": {"type": "text", "font": "Roboto", "fontWeight": "bold", "fontSize": 7, "align": "left", "baseline": "middle", "color": "#333333", "text": "MANAGE RISK. EXPLOIT OPPORTUNITY."},
              "encoding": {
                "x": {"datum": {"year": 2014, "month": 9, "date": 21}, "type": "temporal", "scale": {"domain": [{"year": 2004, "month": 10, "date": 12}, {"year": 2026, "month": 10, "date": 19}], "nice": false}, "axis": null},
                "y": {"datum": 0.3775, "type": "quantitative", "scale": {"type": "log", "domain": [160, 15870], "nice": false}, "axis": null}
              }
            }
          ]
        }
      ],
      "resolve": {"scale": {"x": "independent", "y": "independent"}}
    },
    {
      "width": 1077,
      "height": 276,
      "layer": [
        {
          "data": {"name": "events"},
          "mark": {"type": "rule", "strokeWidth": 1.3, "color": "#cf5b57"},
          "encoding": {
            "x": {"field": "d", "type": "temporal", "scale": {"domain": [{"year": 2004, "month": 10, "date": 12}, {"year": 2026, "month": 10, "date": 19}], "nice": false},
              "axis": {"orient": "bottom", "title": null, "grid": false, "format": "%Y", "tickSize": 7, "labelPadding": 3, "labelFlush": false,
                "values": [{"year": 2006, "month": 1, "date": 1}, {"year": 2008, "month": 1, "date": 1}, {"year": 2010, "month": 1, "date": 1}, {"year": 2012, "month": 1, "date": 1}, {"year": 2014, "month": 1, "date": 1}, {"year": 2016, "month": 1, "date": 1}, {"year": 2018, "month": 1, "date": 1}, {"year": 2020, "month": 1, "date": 1}, {"year": 2022, "month": 1, "date": 1}, {"year": 2024, "month": 1, "date": 1}, {"year": 2026, "month": 1, "date": 1}]}}
          }
        },
        {
          "data": {"name": "vol"},
          "mark": {"type": "line", "strokeWidth": 2},
          "encoding": {
            "x": {"field": "d", "type": "temporal", "scale": {"domain": [{"year": 2004, "month": 10, "date": 12}, {"year": 2026, "month": 10, "date": 19}], "nice": false}, "axis": null},
            "y": {"field": "v", "type": "quantitative", "scale": {"domain": [10, 100], "nice": false, "zero": false}, "axis": {"orient": "left", "title": null, "grid": true, "values": [10, 20, 30, 40, 50, 60, 70, 80, 90, 100], "labelExpr": "datum.value + '%'"}},
            "color": {"datum": "Modified-Cap-Weighted Implied Volatility of Philadelphia Semiconductor Index Constituents (Latest: 72.14%)", "type": "nominal", "scale": {"domain": ["Modified-Cap-Weighted Implied Volatility of Philadelphia Semiconductor Index Constituents (Latest: 72.14%)", "75% Volatility Threshold"], "range": ["#6a3d9a", "#808080"]}},
            "strokeDash": {"datum": "Modified-Cap-Weighted Implied Volatility of Philadelphia Semiconductor Index Constituents (Latest: 72.14%)", "type": "nominal", "scale": {"domain": ["Modified-Cap-Weighted Implied Volatility of Philadelphia Semiconductor Index Constituents (Latest: 72.14%)", "75% Volatility Threshold"], "range": [[1, 0], [7, 4]]}}
          }
        },
        {
          "data": {"values": [{}]},
          "mark": {"type": "rule", "strokeWidth": 1.6},
          "encoding": {
            "y": {"datum": 75, "type": "quantitative", "scale": {"domain": [10, 100], "nice": false, "zero": false}, "axis": {"orient": "right", "title": null, "grid": false, "values": [10, 20, 30, 40, 50, 60, 70, 80, 90, 100], "labelExpr": "datum.value + '%'"}},
            "color": {"datum": "75% Volatility Threshold", "type": "nominal", "scale": {"domain": ["Modified-Cap-Weighted Implied Volatility of Philadelphia Semiconductor Index Constituents (Latest: 72.14%)", "75% Volatility Threshold"], "range": ["#6a3d9a", "#808080"]}},
            "strokeDash": {"datum": "75% Volatility Threshold", "type": "nominal", "scale": {"domain": ["Modified-Cap-Weighted Implied Volatility of Philadelphia Semiconductor Index Constituents (Latest: 72.14%)", "75% Volatility Threshold"], "range": [[1, 0], [7, 4]]}}
          }
        }
      ],
      "resolve": {"axis": {"y": "independent"}}
    }
  ]
}
